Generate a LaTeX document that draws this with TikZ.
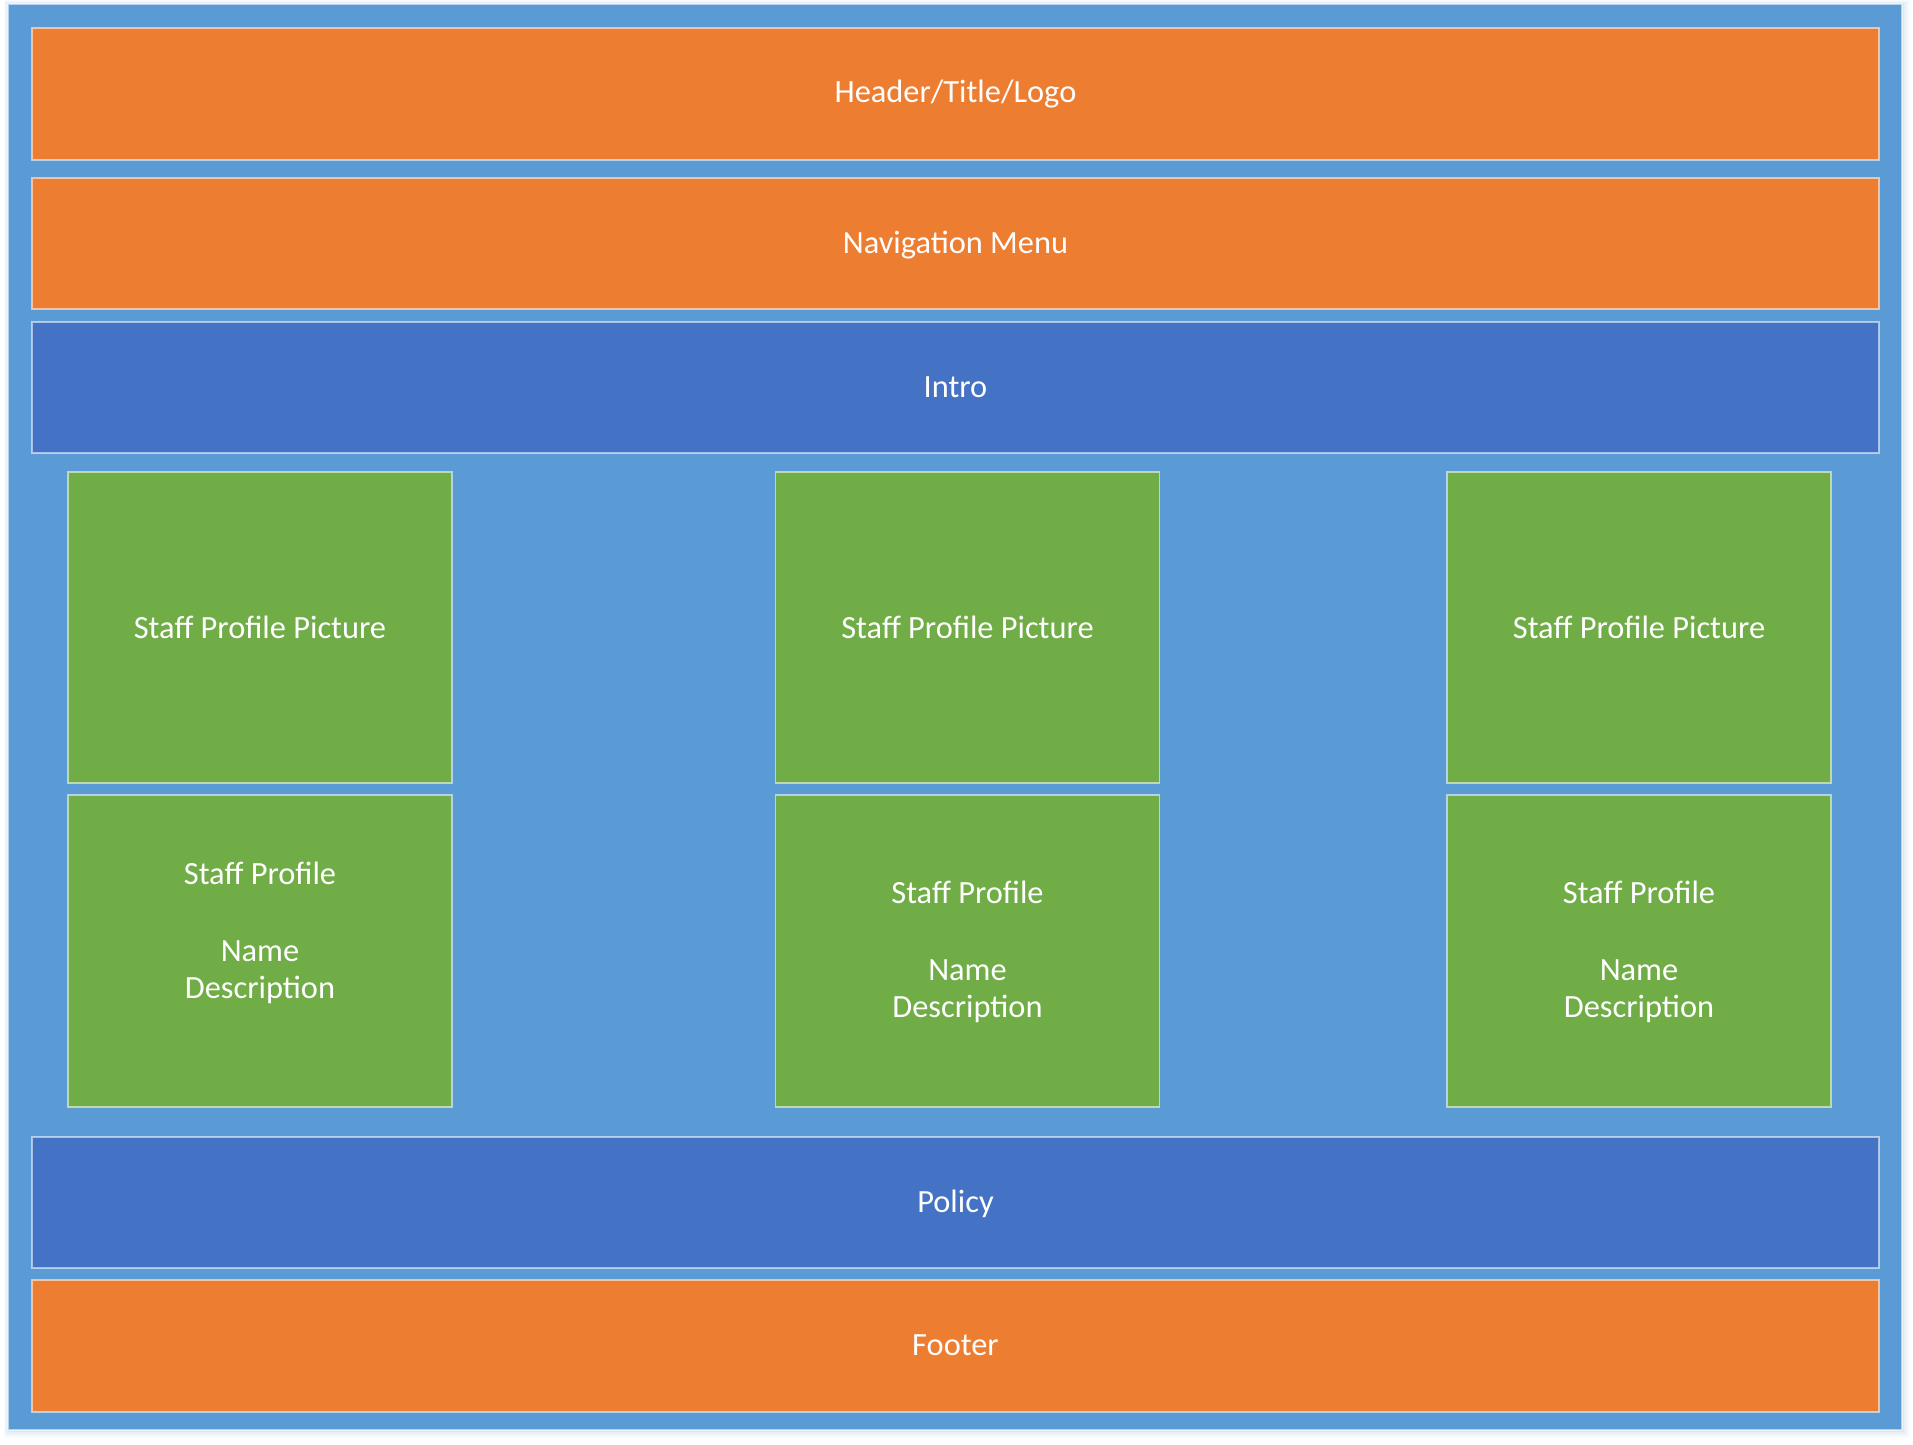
\documentclass[tikz,border=0pt]{standalone}
\usepackage{fontspec}
\setmainfont{Carlito}
\definecolor{bgblue}{HTML}{5B9BD5}
\definecolor{darkblue}{HTML}{4472C4}
\definecolor{orng}{HTML}{ED7D31}
\definecolor{grn}{HTML}{70AD47}
\begin{document}
\begin{tikzpicture}[x=0.5pt,y=-0.5pt,
  box/.style={rectangle, draw=white, draw opacity=0.55, line width=0.6pt, inner sep=0pt, outer sep=0pt},
  band/.style={box, minimum width=923.5pt},
  orangeband/.style={band, fill=orng},
  blueband/.style={band, fill=darkblue},
  greenbox/.style={box, fill=grn, minimum width=192pt},
  txt/.style={text=white, font=\fontsize{16.2}{19.4}\selectfont, inner sep=0pt, anchor=base}
]
\useasboundingbox (0,0) rectangle (1913,1445);
% soft shadow of the page
\foreach \d/\o in {8/0.04,6/0.05,4/0.07,2/0.1}{
  \fill[bgblue, opacity=\o] (8-\d/2,4-\d/2) rectangle (1902+\d,1430+\d);
}
\node[box, fill=bgblue, minimum width=947pt, minimum height=713pt] (page) at (955,717) {};

\node[orangeband, minimum height=66pt] (header) at (955.5,94) {};
\node[orangeband, minimum height=65.5pt] (nav) at (955.5,243.5) {};
\node[blueband, minimum height=65.5pt] (intro) at (955.5,387.5) {};
\node[blueband, minimum height=65.5pt] (policy) at (955.5,1202.5) {};
\node[orangeband, minimum height=66pt] (footer) at (955.5,1346) {};

\node[txt] (headert) at (955.5,103) {Header/Title/Logo};
\node[txt] (navt) at (955.5,253) {Navigation Menu};
\node[txt] (introt) at (955.5,397) {Intro};
\node[txt] (policyt) at (955.5,1212) {Policy};
\node[txt] (footert) at (955.5,1355) {Footer};

% staff pictures
\node[greenbox, minimum height=155.5pt] (pic1) at (260,627.5) {};
\node[greenbox, minimum height=155.5pt] (pic2) at (967.5,627.5) {};
\node[greenbox, minimum height=155.5pt] (pic3) at (1639,627.5) {};
\node[txt] (pic1t) at (260,638) {Staff Profile Picture};
\node[txt] (pic2t) at (967.5,638) {Staff Profile Picture};
\node[txt] (pic3t) at (1639,638) {Staff Profile Picture};

% staff profiles
\node[greenbox, minimum height=156pt] (prof1) at (260,951) {};
\node[greenbox, minimum height=156pt] (prof2) at (967.5,951) {};
\node[greenbox, minimum height=156pt] (prof3) at (1639,951) {};

\node[txt] (prof1a) at (260,884) {Staff Profile};
\node[txt] (prof1b) at (260,961) {Name};
\node[txt] (prof1c) at (260,998) {Description};

\node[txt] (prof2a) at (967.5,903) {Staff Profile};
\node[txt] (prof2b) at (967.5,980) {Name};
\node[txt] (prof2c) at (967.5,1017) {Description};

\node[txt] (prof3a) at (1639,903) {Staff Profile};
\node[txt] (prof3b) at (1639,980) {Name};
\node[txt] (prof3c) at (1639,1017) {Description};
\end{tikzpicture}
\end{document}
